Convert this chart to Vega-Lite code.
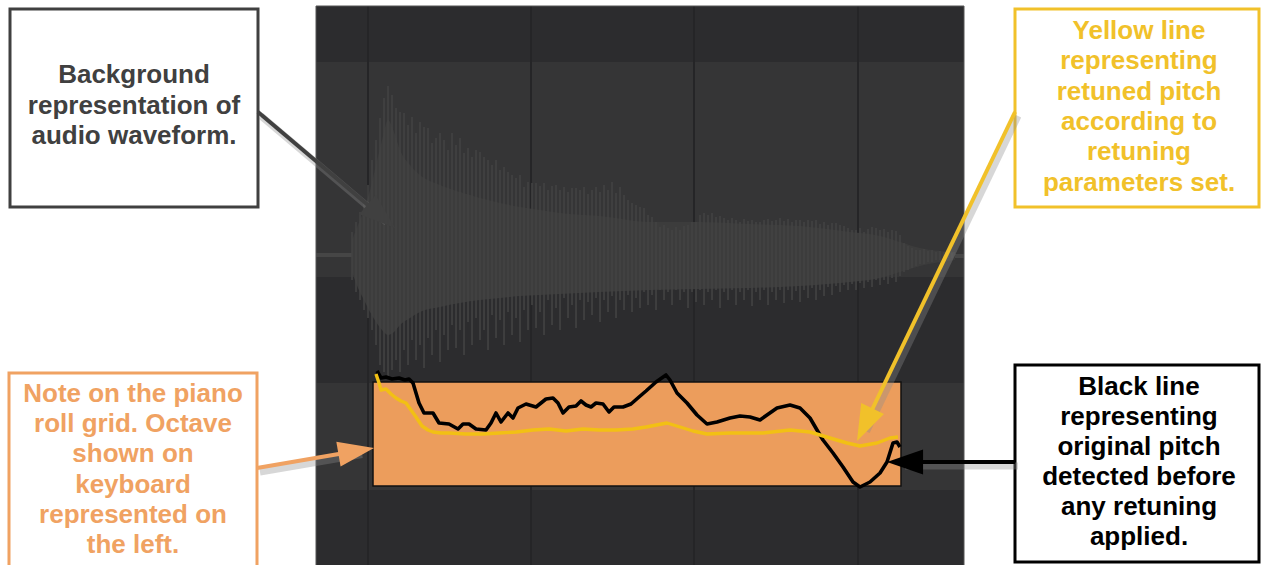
{
  "$schema": "https://vega.github.io/schema/vega-lite/v6.json",
  "width": 1261,
  "height": 565,
  "padding": 0,
  "autosize": {"type": "none"},
  "background": "white",
  "config": {"view": {"stroke": null}},
  "datasets": {
    "bands": [
      {"kind": "dark", "x": 316, "x2": 964, "y": 6, "y2": 62},
      {"kind": "light", "x": 316, "x2": 964, "y": 62, "y2": 277},
      {"kind": "dark", "x": 316, "x2": 964, "y": 277, "y2": 383},
      {"kind": "light", "x": 316, "x2": 964, "y": 383, "y2": 490},
      {"kind": "dark", "x": 316, "x2": 964, "y": 490, "y2": 565}
    ],
    "vlines": [{"x": 368, "y": 6, "y2": 565}, {"x": 531, "y": 6, "y2": 565}, {"x": 694, "y": 6, "y2": 565}, {"x": 858, "y": 6, "y2": 565}],
    "center": [{"x": 316, "x2": 354, "y": 255}, {"x": 950, "x2": 964, "y": 256}],
    "body": [
      {"x": 352, "t": 240, "b": 272}, {"x": 358, "t": 225, "b": 288}, {"x": 364, "t": 210, "b": 300}, {"x": 370, "t": 190, "b": 312},
      {"x": 376, "t": 165, "b": 322}, {"x": 382, "t": 140, "b": 330}, {"x": 388, "t": 120, "b": 335}, {"x": 394, "t": 132, "b": 332},
      {"x": 400, "t": 150, "b": 325}, {"x": 410, "t": 165, "b": 318}, {"x": 420, "t": 175, "b": 312}, {"x": 440, "t": 185, "b": 307},
      {"x": 460, "t": 192, "b": 303}, {"x": 480, "t": 198, "b": 300}, {"x": 500, "t": 203, "b": 298}, {"x": 520, "t": 207, "b": 296},
      {"x": 540, "t": 210, "b": 295}, {"x": 560, "t": 213, "b": 294}, {"x": 600, "t": 216, "b": 292}, {"x": 650, "t": 222, "b": 290},
      {"x": 700, "t": 222, "b": 289}, {"x": 750, "t": 224, "b": 288}, {"x": 800, "t": 226, "b": 286}, {"x": 850, "t": 232, "b": 282},
      {"x": 880, "t": 236, "b": 278}, {"x": 900, "t": 242, "b": 272}, {"x": 920, "t": 248, "b": 266}, {"x": 955, "t": 252, "b": 260}
    ],
    "spikes": [
      {"x": 352, "t": 232, "b": 280}, {"x": 356, "t": 222, "b": 292}, {"x": 360, "t": 212, "b": 300}, {"x": 364, "t": 200, "b": 310},
      {"x": 368, "t": 185, "b": 318}, {"x": 372, "t": 160, "b": 330}, {"x": 376, "t": 140, "b": 345}, {"x": 380, "t": 118, "b": 365},
      {"x": 384, "t": 98, "b": 372}, {"x": 388, "t": 86, "b": 378}, {"x": 392, "t": 95, "b": 370}, {"x": 396, "t": 108, "b": 360},
      {"x": 400, "t": 112, "b": 372}, {"x": 404, "t": 113, "b": 350}, {"x": 408, "t": 125, "b": 365}, {"x": 412, "t": 117, "b": 340},
      {"x": 416, "t": 133, "b": 360}, {"x": 420, "t": 122, "b": 345}, {"x": 424, "t": 127, "b": 368}, {"x": 428, "t": 128, "b": 338},
      {"x": 432, "t": 143, "b": 355}, {"x": 436, "t": 138, "b": 330}, {"x": 440, "t": 133, "b": 362}, {"x": 444, "t": 140, "b": 335},
      {"x": 448, "t": 150, "b": 350}, {"x": 452, "t": 133, "b": 325}, {"x": 456, "t": 145, "b": 348}, {"x": 460, "t": 138, "b": 330},
      {"x": 464, "t": 153, "b": 355}, {"x": 468, "t": 148, "b": 322}, {"x": 472, "t": 157, "b": 345}, {"x": 476, "t": 150, "b": 318},
      {"x": 480, "t": 152, "b": 340}, {"x": 484, "t": 157, "b": 330}, {"x": 488, "t": 160, "b": 350}, {"x": 492, "t": 165, "b": 315},
      {"x": 496, "t": 160, "b": 338}, {"x": 500, "t": 170, "b": 320}, {"x": 504, "t": 167, "b": 345}, {"x": 508, "t": 172, "b": 312},
      {"x": 512, "t": 175, "b": 335}, {"x": 516, "t": 178, "b": 318}, {"x": 520, "t": 175, "b": 342}, {"x": 524, "t": 187, "b": 310},
      {"x": 528, "t": 182, "b": 330}, {"x": 532, "t": 183, "b": 305}, {"x": 536, "t": 183, "b": 328}, {"x": 540, "t": 186, "b": 312},
      {"x": 544, "t": 183, "b": 335}, {"x": 548, "t": 190, "b": 300}, {"x": 552, "t": 186, "b": 325}, {"x": 556, "t": 185, "b": 308},
      {"x": 560, "t": 190, "b": 330}, {"x": 564, "t": 187, "b": 298}, {"x": 568, "t": 192, "b": 318}, {"x": 572, "t": 188, "b": 305},
      {"x": 576, "t": 188, "b": 328}, {"x": 580, "t": 190, "b": 300}, {"x": 584, "t": 187, "b": 320}, {"x": 588, "t": 194, "b": 302},
      {"x": 592, "t": 190, "b": 315}, {"x": 596, "t": 187, "b": 298}, {"x": 600, "t": 192, "b": 322}, {"x": 604, "t": 185, "b": 300},
      {"x": 608, "t": 190, "b": 312}, {"x": 612, "t": 182, "b": 296}, {"x": 616, "t": 193, "b": 318}, {"x": 620, "t": 187, "b": 300},
      {"x": 624, "t": 195, "b": 310}, {"x": 628, "t": 200, "b": 295}, {"x": 632, "t": 203, "b": 312}, {"x": 636, "t": 205, "b": 298},
      {"x": 640, "t": 207, "b": 308}, {"x": 644, "t": 208, "b": 292}, {"x": 648, "t": 215, "b": 305}, {"x": 652, "t": 217, "b": 295},
      {"x": 656, "t": 222, "b": 310}, {"x": 660, "t": 227, "b": 290}, {"x": 664, "t": 225, "b": 300}, {"x": 668, "t": 228, "b": 292},
      {"x": 672, "t": 230, "b": 305}, {"x": 676, "t": 227, "b": 290}, {"x": 680, "t": 230, "b": 300}, {"x": 684, "t": 226, "b": 292},
      {"x": 688, "t": 225, "b": 308}, {"x": 692, "t": 222, "b": 292}, {"x": 696, "t": 222, "b": 302}, {"x": 700, "t": 215, "b": 290},
      {"x": 704, "t": 213, "b": 305}, {"x": 708, "t": 215, "b": 292}, {"x": 712, "t": 213, "b": 300}, {"x": 716, "t": 217, "b": 290},
      {"x": 720, "t": 216, "b": 308}, {"x": 724, "t": 218, "b": 292}, {"x": 728, "t": 220, "b": 300}, {"x": 732, "t": 218, "b": 290},
      {"x": 736, "t": 220, "b": 305}, {"x": 740, "t": 222, "b": 292}, {"x": 744, "t": 219, "b": 300}, {"x": 748, "t": 221, "b": 290},
      {"x": 752, "t": 220, "b": 306}, {"x": 756, "t": 222, "b": 292}, {"x": 760, "t": 222, "b": 300}, {"x": 764, "t": 220, "b": 290},
      {"x": 768, "t": 219, "b": 305}, {"x": 772, "t": 221, "b": 292}, {"x": 776, "t": 220, "b": 300}, {"x": 780, "t": 218, "b": 290},
      {"x": 784, "t": 221, "b": 303}, {"x": 788, "t": 219, "b": 290}, {"x": 792, "t": 222, "b": 300}, {"x": 796, "t": 220, "b": 291},
      {"x": 800, "t": 220, "b": 302}, {"x": 804, "t": 222, "b": 290}, {"x": 808, "t": 220, "b": 298}, {"x": 812, "t": 221, "b": 288},
      {"x": 816, "t": 220, "b": 300}, {"x": 820, "t": 224, "b": 290}, {"x": 824, "t": 222, "b": 296}, {"x": 828, "t": 225, "b": 287},
      {"x": 832, "t": 223, "b": 295}, {"x": 836, "t": 223, "b": 286}, {"x": 840, "t": 225, "b": 292}, {"x": 844, "t": 226, "b": 285},
      {"x": 848, "t": 228, "b": 290}, {"x": 852, "t": 230, "b": 284}, {"x": 856, "t": 230, "b": 290}, {"x": 860, "t": 228, "b": 283},
      {"x": 864, "t": 232, "b": 288}, {"x": 868, "t": 229, "b": 282}, {"x": 872, "t": 227, "b": 287}, {"x": 876, "t": 228, "b": 280},
      {"x": 880, "t": 230, "b": 285}, {"x": 884, "t": 229, "b": 280}, {"x": 888, "t": 232, "b": 284}, {"x": 892, "t": 230, "b": 278},
      {"x": 896, "t": 231, "b": 282}, {"x": 900, "t": 235, "b": 276}, {"x": 904, "t": 243, "b": 272}, {"x": 908, "t": 246, "b": 270},
      {"x": 912, "t": 248, "b": 268}, {"x": 916, "t": 250, "b": 266}, {"x": 920, "t": 250, "b": 264}, {"x": 924, "t": 249, "b": 264},
      {"x": 928, "t": 251, "b": 262}, {"x": 932, "t": 250, "b": 262}, {"x": 936, "t": 252, "b": 260}, {"x": 940, "t": 251, "b": 260},
      {"x": 944, "t": 252, "b": 259}, {"x": 948, "t": 253, "b": 258}, {"x": 952, "t": 253, "b": 258}
    ],
    "note": [{"x": 373, "x2": 901, "y": 382, "y2": 486}],
    "panel": [{"x": 316, "x2": 964, "y": 6, "y2": 566}],
    "original": [
      {"x": 377, "y": 371}, {"x": 381, "y": 378}, {"x": 386, "y": 377}, {"x": 392, "y": 379}, {"x": 399, "y": 378}, {"x": 405, "y": 380},
      {"x": 409, "y": 379}, {"x": 413, "y": 383}, {"x": 419, "y": 403}, {"x": 424, "y": 413}, {"x": 433, "y": 413}, {"x": 439, "y": 423},
      {"x": 449, "y": 424}, {"x": 458, "y": 429}, {"x": 463, "y": 424}, {"x": 469, "y": 424}, {"x": 476, "y": 429}, {"x": 486, "y": 430},
      {"x": 491, "y": 423}, {"x": 496, "y": 413}, {"x": 501, "y": 422}, {"x": 508, "y": 413}, {"x": 513, "y": 418}, {"x": 518, "y": 408},
      {"x": 526, "y": 404}, {"x": 536, "y": 407}, {"x": 546, "y": 399}, {"x": 553, "y": 398}, {"x": 558, "y": 403}, {"x": 563, "y": 413},
      {"x": 569, "y": 407}, {"x": 576, "y": 406}, {"x": 581, "y": 401}, {"x": 586, "y": 405}, {"x": 591, "y": 407}, {"x": 596, "y": 403},
      {"x": 603, "y": 404}, {"x": 609, "y": 412}, {"x": 614, "y": 407}, {"x": 623, "y": 407}, {"x": 631, "y": 404}, {"x": 639, "y": 397},
      {"x": 646, "y": 391}, {"x": 656, "y": 382}, {"x": 666, "y": 375}, {"x": 670, "y": 380}, {"x": 677, "y": 393}, {"x": 687, "y": 403},
      {"x": 697, "y": 415}, {"x": 707, "y": 424}, {"x": 717, "y": 422}, {"x": 730, "y": 418}, {"x": 740, "y": 416}, {"x": 750, "y": 417},
      {"x": 760, "y": 420}, {"x": 767, "y": 415}, {"x": 777, "y": 408}, {"x": 790, "y": 405}, {"x": 800, "y": 408}, {"x": 810, "y": 418},
      {"x": 817, "y": 430}, {"x": 823, "y": 440}, {"x": 833, "y": 453}, {"x": 843, "y": 467}, {"x": 853, "y": 482}, {"x": 860, "y": 487},
      {"x": 870, "y": 482}, {"x": 880, "y": 473}, {"x": 887, "y": 462}, {"x": 893, "y": 443}, {"x": 897, "y": 442}, {"x": 900, "y": 447}
    ],
    "retuned": [
      {"x": 376, "y": 374}, {"x": 379, "y": 383}, {"x": 381, "y": 390}, {"x": 386, "y": 389}, {"x": 391, "y": 394}, {"x": 396, "y": 398},
      {"x": 401, "y": 401}, {"x": 406, "y": 403}, {"x": 411, "y": 410}, {"x": 416, "y": 417}, {"x": 422, "y": 426}, {"x": 428, "y": 430},
      {"x": 433, "y": 432}, {"x": 441, "y": 433}, {"x": 449, "y": 433}, {"x": 466, "y": 434}, {"x": 483, "y": 434}, {"x": 499, "y": 433},
      {"x": 516, "y": 432}, {"x": 533, "y": 430}, {"x": 549, "y": 429}, {"x": 566, "y": 431}, {"x": 583, "y": 429}, {"x": 599, "y": 430},
      {"x": 616, "y": 430}, {"x": 633, "y": 429}, {"x": 646, "y": 427}, {"x": 667, "y": 423}, {"x": 680, "y": 427}, {"x": 693, "y": 431},
      {"x": 707, "y": 434}, {"x": 730, "y": 433}, {"x": 763, "y": 433}, {"x": 790, "y": 430}, {"x": 810, "y": 432}, {"x": 830, "y": 438},
      {"x": 847, "y": 443}, {"x": 860, "y": 446}, {"x": 877, "y": 443}, {"x": 890, "y": 438}, {"x": 898, "y": 437}
    ],
    "boxes": [
      {"kind": "gray", "x": 10, "x2": 258, "y": 9, "y2": 207},
      {"kind": "orange", "x": 9, "x2": 257, "y": 373, "y2": 575},
      {"kind": "yellow", "x": 1015, "x2": 1259, "y": 9, "y2": 207},
      {"kind": "black", "x": 1015, "x2": 1259, "y": 365, "y2": 562}
    ],
    "labels": [
      {"kind": "gray", "x": 134, "y": 83, "text": "Background"},
      {"kind": "gray", "x": 134, "y": 113.5, "text": "representation of"},
      {"kind": "gray", "x": 134, "y": 144, "text": "audio waveform."},
      {"kind": "orange", "x": 133, "y": 401.5, "text": "Note on the piano"},
      {"kind": "orange", "x": 133, "y": 432, "text": "roll grid. Octave"},
      {"kind": "orange", "x": 133, "y": 462, "text": "shown on"},
      {"kind": "orange", "x": 133, "y": 492.5, "text": "keyboard"},
      {"kind": "orange", "x": 133, "y": 523, "text": "represented on"},
      {"kind": "orange", "x": 133, "y": 553, "text": "the left."},
      {"kind": "yellow", "x": 1139, "y": 38.5, "text": "Yellow line"},
      {"kind": "yellow", "x": 1139, "y": 69, "text": "representing"},
      {"kind": "yellow", "x": 1139, "y": 99.5, "text": "retuned pitch"},
      {"kind": "yellow", "x": 1139, "y": 130, "text": "according to"},
      {"kind": "yellow", "x": 1139, "y": 160, "text": "retuning"},
      {"kind": "yellow", "x": 1139, "y": 190.5, "text": "parameters set."},
      {"kind": "black", "x": 1139, "y": 395, "text": "Black line"},
      {"kind": "black", "x": 1139, "y": 425, "text": "representing"},
      {"kind": "black", "x": 1139, "y": 455, "text": "original pitch"},
      {"kind": "black", "x": 1139, "y": 485, "text": "detected before"},
      {"kind": "black", "x": 1139, "y": 515, "text": "any retuning"},
      {"kind": "black", "x": 1139, "y": 545, "text": "applied."}
    ],
    "arrows": [
      {"kind": "gray", "x": 258, "y": 112, "x2": 383.6, "y2": 218.3},
      {"kind": "orange", "x": 257, "y": 468, "x2": 359.2, "y2": 450.5},
      {"kind": "yellow", "x": 1015, "y": 112, "x2": 863.5, "y2": 427.5},
      {"kind": "black", "x": 1015, "y": 462, "x2": 902, "y2": 462}
    ],
    "heads": [
      {"kind": "gray", "x": 395, "y": 228, "ang": 40.3},
      {"kind": "orange", "x": 374, "y": 448, "ang": -9.7},
      {"kind": "yellow", "x": 857, "y": 441, "ang": 115.6},
      {"kind": "black", "x": 887, "y": 462, "ang": 180}
    ]
  },
  "encoding": {
    "x": {"field": "x", "type": "quantitative", "scale": {"domain": [0, 1261], "nice": false, "zero": false}, "axis": null},
    "y": {"field": "y", "type": "quantitative", "scale": {"domain": [0, 565], "nice": false, "zero": false, "reverse": true}, "axis": null}
  },
  "layer": [
    {
      "data": {"name": "bands"},
      "mark": {"type": "rect"},
      "encoding": {
        "x2": {"field": "x2"}, "y2": {"field": "y2"},
        "color": {"field": "kind", "type": "nominal", "legend": null,
          "scale": {"domain": ["dark", "light", "gray", "orange", "yellow", "black"], "range": ["#2c2c2e", "#353536", "#404040", "#f0a262", "#f1c12a", "#000000"]}}
      }
    },
    {
      "data": {"name": "vlines"},
      "mark": {"type": "rule", "color": "#252527", "strokeWidth": 2},
      "encoding": {"y2": {"field": "y2"}}
    },
    {
      "data": {"name": "center"},
      "mark": {"type": "rule", "color": "#464646", "strokeWidth": 4},
      "encoding": {"x2": {"field": "x2"}}
    },
    {
      "data": {"name": "body"},
      "mark": {"type": "area", "color": "#3c3c3c", "interpolate": "monotone"},
      "encoding": {"y": {"field": "t", "type": "quantitative"}, "y2": {"field": "b"}}
    },
    {
      "data": {"name": "spikes"},
      "mark": {"type": "rule", "color": "#434343", "strokeWidth": 1.6},
      "encoding": {"y": {"field": "t", "type": "quantitative"}, "y2": {"field": "b"}}
    },
    {
      "data": {"name": "panel"},
      "mark": {"type": "rect", "fillOpacity": 0, "stroke": "#555555", "strokeWidth": 1},
      "encoding": {"x2": {"field": "x2"}, "y2": {"field": "y2"}}
    },
    {
      "data": {"name": "note"},
      "mark": {"type": "rect", "color": "#ec9d5c", "stroke": "#111111", "strokeWidth": 1.5},
      "encoding": {"x2": {"field": "x2"}, "y2": {"field": "y2"}}
    },
    {
      "data": {"name": "original"},
      "mark": {"type": "line", "color": "#000000", "strokeWidth": 3.6, "strokeJoin": "round"},
      "encoding": {}
    },
    {
      "data": {"name": "retuned"},
      "mark": {"type": "line", "color": "#f2c014", "strokeWidth": 3.4, "strokeJoin": "round"},
      "encoding": {}
    },
    {
      "data": {"name": "boxes"},
      "mark": {"type": "rect", "fill": "white", "strokeWidth": 3},
      "encoding": {
        "x2": {"field": "x2"}, "y2": {"field": "y2"},
        "stroke": {"field": "kind", "type": "nominal", "legend": null,
          "scale": {"domain": ["dark", "light", "gray", "orange", "yellow", "black"], "range": ["#2c2c2e", "#353536", "#404040", "#f0a262", "#f1c12a", "#000000"]}}
      }
    },
    {
      "data": {"name": "labels"},
      "mark": {"type": "text", "font": "Liberation Sans", "fontWeight": "bold", "fontSize": 26, "align": "center", "baseline": "alphabetic"},
      "encoding": {
        "text": {"field": "text"},
        "color": {"field": "kind", "type": "nominal", "legend": null}
      }
    },
    {
      "data": {"name": "arrows"},
      "mark": {"type": "rule", "color": "#8c8c8c", "opacity": 0.35, "strokeWidth": 7, "xOffset": 3, "x2Offset": 3, "yOffset": 4, "y2Offset": 4},
      "encoding": {"x2": {"field": "x2"}, "y2": {"field": "y2"}}
    },
    {
      "data": {"name": "arrows"},
      "mark": {"type": "rule", "strokeWidth": 4},
      "encoding": {
        "x2": {"field": "x2"}, "y2": {"field": "y2"},
        "color": {"field": "kind", "type": "nominal", "legend": null}
      }
    },
    {
      "data": {"name": "heads"},
      "mark": {"type": "point", "filled": true, "opacity": 1, "size": 1300, "shape": "M0,0L-2,-0.7L-2,0.7Z"},
      "encoding": {
        "angle": {"field": "ang", "type": "quantitative", "scale": null},
        "color": {"field": "kind", "type": "nominal", "legend": null}
      }
    }
  ]
}
